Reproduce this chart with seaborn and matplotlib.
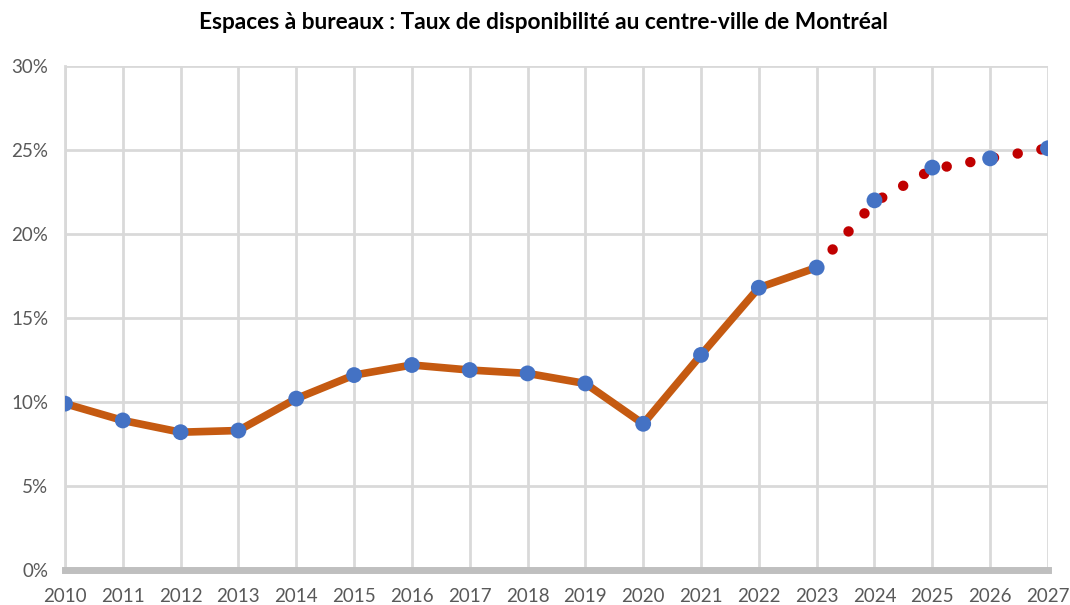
import numpy as np
import pandas as pd
import matplotlib
matplotlib.use('Agg')
import matplotlib.pyplot as plt
import seaborn as sns
from matplotlib.ticker import FuncFormatter

# historical availability rate (%)
years = [2010, 2011, 2012, 2013, 2014, 2015, 2016, 2017, 2018,
         2019, 2020, 2021, 2022, 2023]
taux = [9.9, 8.9, 8.2, 8.3, 10.2, 11.6, 12.2, 11.9, 11.7,
        11.1, 8.7, 12.8, 16.8, 18.0]

# forecast (red dotted) and its blue markers
prev_years = [2023, 2024, 2025, 2026, 2027]
prev_taux = [18.0, 21.9, 23.85, 24.5, 25.1]
pts_years = [2024, 2025, 2026, 2027]
pts_taux = [22.0, 23.95, 24.5, 25.1]

hist = pd.DataFrame({'annee': years, 'taux': taux})
prev = pd.DataFrame({'annee': prev_years, 'taux': prev_taux})
pts = pd.DataFrame({'annee': pts_years, 'taux': pts_taux})

sns.set_style('white')
plt.rcParams['font.family'] = ['Lato', 'DejaVu Sans']

fig = plt.figure(figsize=(10.7, 6.05), dpi=100)
ax = fig.add_axes([0.0607, 0.0579, 0.9187, 0.8331])

orange = '#C55A11'
blue = '#4472C4'
red = '#C00000'

sns.lineplot(data=prev, x='annee', y='taux', ax=ax, color=red, lw=7.5,
             linestyle=(0, (0.01, 2.3)), dash_capstyle='round', zorder=3)
sns.lineplot(data=hist, x='annee', y='taux', ax=ax, color=orange, lw=5.5,
             solid_capstyle='round', zorder=4)
sns.scatterplot(data=hist, x='annee', y='taux', ax=ax, color=blue, s=130,
                edgecolor='none', zorder=5)
sns.scatterplot(data=pts, x='annee', y='taux', ax=ax, color=blue, s=130,
                edgecolor='none', zorder=5)

ax.set_xlim(2010, 2027)
ax.set_ylim(0, 30)
ax.set_xticks(range(2010, 2028))
ax.set_yticks(range(0, 31, 5))
ax.yaxis.set_major_formatter(FuncFormatter(lambda v, p: f'{int(v)}%'))
ax.grid(True, color='#d9d9d9', lw=2)
ax.set_axisbelow(True)
ax.set_xlabel('')
ax.set_ylabel('')

for s in ['top', 'right']:
    ax.spines[s].set_visible(False)
ax.spines['left'].set_color('#d9d9d9')
ax.spines['left'].set_linewidth(2)
ax.spines['bottom'].set_color('#bfbfbf')
ax.spines['bottom'].set_linewidth(5)

ax.tick_params(axis='both', length=0, labelsize=13.5, colors='#595959')
ax.tick_params(axis='x', pad=13)
ax.tick_params(axis='y', pad=12)

fig.text(0.508, 0.963,
         'Espaces à bureaux : Taux de disponibilité au centre-ville de Montréal',
         ha='center', va='center', fontsize=16.3, fontweight='bold', color='black')

fig.savefig('out.png', dpi=100)
